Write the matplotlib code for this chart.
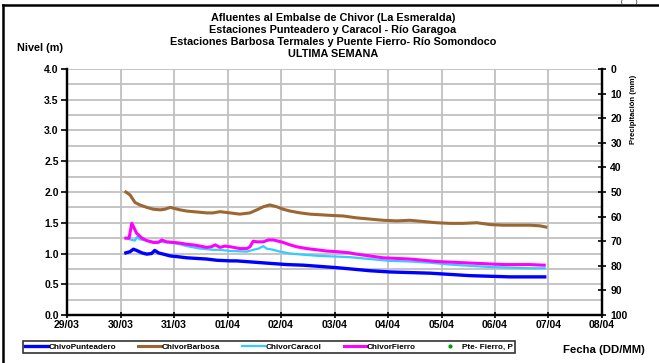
import matplotlib
matplotlib.use("Agg")
import matplotlib.pyplot as plt
from matplotlib.lines import Line2D

plt.rcParams['font.family'] = ['Liberation Sans', 'DejaVu Sans']
plt.rcParams['font.weight'] = 'bold'

# x = days since 29/03
tick_labels = ["29/03", "30/03", "31/03", "01/04", "02/04", "03/04",
               "04/04", "05/04", "06/04", "07/04", "08/04"]

barbosa_d = [1.10, 1.18, 1.27, 1.36, 1.49, 1.61, 1.74, 1.83, 1.93, 2.02, 2.11, 2.24, 2.36,
             2.49, 2.61, 2.73, 2.86, 3.05, 3.23, 3.42, 3.55, 3.67, 3.79, 3.92, 4.04, 4.17,
             4.36, 4.54, 4.73, 4.92, 5.16, 5.41, 5.66, 5.91, 6.16, 6.41, 6.66, 6.91, 7.16,
             7.41, 7.66, 7.91, 8.16, 8.41, 8.65, 8.84, 8.95]
barbosa_v = [2.00, 1.95, 1.83, 1.79, 1.75, 1.72, 1.71, 1.72, 1.75, 1.73, 1.71, 1.69, 1.68,
             1.67, 1.66, 1.66, 1.68, 1.66, 1.64, 1.66, 1.71, 1.76, 1.79, 1.76, 1.72, 1.69,
             1.66, 1.64, 1.63, 1.62, 1.61, 1.58, 1.56, 1.54, 1.53, 1.54, 1.52, 1.50, 1.49,
             1.49, 1.50, 1.47, 1.46, 1.46, 1.46, 1.45, 1.43]

fierro_d = [1.10, 1.16, 1.21, 1.24, 1.30, 1.40, 1.49, 1.61, 1.71, 1.77, 1.86, 1.99, 2.11,
            2.24, 2.36, 2.49, 2.61, 2.70, 2.77, 2.86, 2.95, 3.05, 3.11, 3.23, 3.36, 3.42,
            3.48, 3.55, 3.67, 3.76, 3.86, 3.95, 4.04, 4.17, 4.29, 4.48, 4.67, 4.85, 5.04,
            5.29, 5.41, 5.66, 5.91, 6.16, 6.41, 6.66, 6.91, 7.16, 7.41, 7.66, 7.91, 8.16,
            8.41, 8.65, 8.92]
fierro_v = [1.25, 1.25, 1.49, 1.44, 1.33, 1.25, 1.21, 1.18, 1.18, 1.22, 1.19, 1.18, 1.17,
            1.15, 1.14, 1.12, 1.10, 1.11, 1.14, 1.10, 1.12, 1.11, 1.10, 1.08, 1.08, 1.11,
            1.20, 1.19, 1.19, 1.22, 1.22, 1.20, 1.18, 1.14, 1.11, 1.08, 1.06, 1.04, 1.03,
            1.01, 0.99, 0.96, 0.93, 0.92, 0.91, 0.89, 0.87, 0.86, 0.85, 0.84, 0.83, 0.82,
            0.82, 0.82, 0.81]

caracol_d = [1.10, 1.21, 1.27, 1.31, 1.36, 1.49, 1.61, 1.74, 1.86, 1.99, 2.11, 2.24, 2.36,
             2.49, 2.61, 2.73, 2.86, 3.05, 3.11, 3.36, 3.48, 3.58, 3.67, 3.73, 3.86, 3.98,
             4.17, 4.42, 4.73, 5.04, 5.29, 5.66, 6.04, 6.41, 6.79, 7.16, 7.53, 7.91, 8.28,
             8.65, 8.93]
caracol_v = [1.25, 1.22, 1.21, 1.27, 1.23, 1.21, 1.19, 1.19, 1.18, 1.17, 1.15, 1.12, 1.10,
             1.08, 1.07, 1.06, 1.06, 1.04, 1.04, 1.03, 1.06, 1.08, 1.12, 1.08, 1.06, 1.03,
             1.00, 0.98, 0.96, 0.95, 0.94, 0.91, 0.88, 0.87, 0.85, 0.82, 0.80, 0.78, 0.77,
             0.76, 0.76]

punte_d = [1.10, 1.18, 1.24, 1.30, 1.40, 1.49, 1.58, 1.64, 1.71, 1.80, 1.93, 2.05, 2.24,
           2.42, 2.61, 2.80, 3.05, 3.17, 3.48, 3.79, 4.11, 4.42, 4.73, 5.04, 5.29, 5.66,
           6.04, 6.41, 6.79, 7.16, 7.53, 7.91, 8.28, 8.65, 8.93]
punte_v = [1.01, 1.03, 1.07, 1.05, 1.01, 0.99, 1.00, 1.05, 1.01, 0.99, 0.96, 0.95, 0.93,
           0.92, 0.91, 0.89, 0.88, 0.88, 0.86, 0.84, 0.82, 0.81, 0.79, 0.77, 0.75, 0.72,
           0.70, 0.69, 0.68, 0.66, 0.64, 0.63, 0.62, 0.62, 0.62]

lluvia_d = []
lluvia_v = []

fig = plt.figure(figsize=(6.59, 3.63), dpi=100)
ax = fig.add_axes([0.1017, 0.1322, 0.8118, 0.6778])
ax2 = ax.twinx()

grid_c = '#c0c0c0'
for y in [i * 0.25 for i in range(1, 17)]:
    ax.axhline(y, color=grid_c, lw=1.3, zorder=0)
for x in range(1, 11):
    ax.axvline(x, color=grid_c, lw=1.3, zorder=0)

l1, = ax.plot(punte_d, punte_v, color='#0000ff', lw=2.4, zorder=3)
l2, = ax.plot(barbosa_d, barbosa_v, color='#9c6633', lw=2.2, zorder=3)
l3, = ax.plot(caracol_d, caracol_v, color='#33ccff', lw=1.6, zorder=3)
l4, = ax.plot(fierro_d, fierro_v, color='#ff00ff', lw=2.2, zorder=3)
l5, = ax2.plot(lluvia_d, lluvia_v, 'o', color='#009900', ms=2)

ax.set_xlim(0, 10)
ax.set_ylim(0, 4)
ax.set_xticks(range(11))
ax.set_xticklabels(tick_labels)
ax.set_yticks([i * 0.5 for i in range(9)])
ax.set_yticklabels([f"{i * 0.5:.1f}" for i in range(9)])
ax2.set_ylim(100, 0)
ax2.set_yticks(range(0, 101, 10))

for a in (ax, ax2):
    a.spines['top'].set_visible(False)
    for s in ('left', 'right', 'bottom'):
        a.spines[s].set_linewidth(1.6)
    a.tick_params(labelsize=7.5, width=1.2, length=3, pad=2)
ax2.tick_params(axis='y', direction='inout', length=6, pad=3)
ax.tick_params(axis='x', direction='inout', length=5, pad=1)
ax.tick_params(axis='y', direction='out', length=4)
for t in ax.get_xticklabels() + ax.get_yticklabels() + ax2.get_yticklabels():
    t.set_fontweight('bold')

fig.text(0.505, 0.964, "Afluentes al Embalse de Chivor (La Esmeralda)\n"
         "Estaciones Punteadero y Caracol - Río Garagoa\n"
         "Estaciones Barbosa Termales y Puente Fierro- Río Somondoco\n"
         "ULTIMA SEMANA", ha='center', va='top', fontsize=7.8,
         fontweight='bold', linespacing=1.25)
fig.text(0.026, 0.868, "Nivel (m)", fontsize=7.8, fontweight='bold', va='center')
fig.text(0.962, 0.795, "Precipitación (mm)", rotation=90, fontsize=5.5,
         fontweight='bold', va='top', ha='center')
fig.text(0.978, 0.035, "Fecha (DD/MM)", fontsize=8.2, fontweight='bold',
         ha='right', va='center')

leg = fig.legend([l1, l2, l3, l4, l5],
                 ["ChivoPunteadero", "ChivorBarbosa", "ChivorCaracol",
                  "ChivorFierro", "Pte- Fierro, P"],
                 loc='center', bbox_to_anchor=(0.408, 0.044), ncol=5,
                 fontsize=5.9, frameon=True, fancybox=False, handlelength=2.8,
                 handletextpad=0.05, columnspacing=2.7, borderpad=0.3,
                 borderaxespad=0, markerscale=1)
leg.get_frame().set_edgecolor('black')
leg.get_frame().set_linewidth(1.2)
for t in leg.get_texts():
    t.set_fontweight('bold')

# outer chart frame (left and top edges visible)
fig.add_artist(Line2D([0.005, 0.005], [0.0, 0.985], transform=fig.transFigure,
                      color='black', lw=1.8))
fig.add_artist(Line2D([0.005, 1.0], [0.985, 0.985], transform=fig.transFigure,
                      color='black', lw=1.8))
fig.text(0.955, 0.989, "(            )", fontsize=3, ha='center', va='bottom')

fig.savefig("out.png", dpi=100)
